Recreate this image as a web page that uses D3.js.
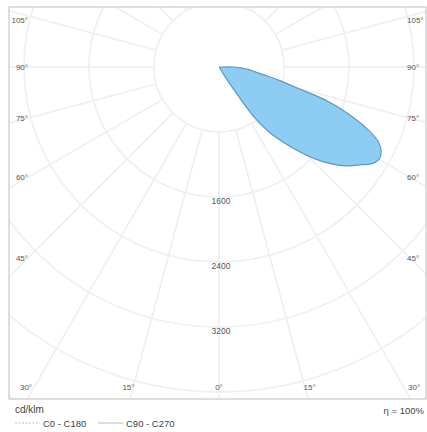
<!DOCTYPE html>
<html>
<head>
<meta charset="utf-8">
<script src="https://cdn.jsdelivr.net/npm/d3@7"></script>
<style>
  html, body { margin: 0; padding: 0; background: #fff; }
  svg { display: block; }
  text { font-family: "Liberation Sans", Arial, sans-serif; }
</style>
</head>
<body>
<script>
// ---- data ----
const gammaAngles = [0, 5, 10, 15, 20, 25, 30, 32.5, 35, 37.5, 40, 42.5, 45, 47.5, 50, 52.5, 55, 57.5, 60, 62.5, 65, 67.5, 70, 72.5, 75, 77.5, 80, 82.5, 85, 87.5, 90, 95];
const c0Values    = [0, 0, 0, 0, 0, 0, 0, 200, 750, 1000, 1180, 1360, 1545, 1720, 1870, 2000, 2100, 2220, 2275, 2250, 2160, 1960, 1700, 1410, 990, 760, 560, 440, 370, 270, 180, 0];
const circleValues = [800, 1600, 2400, 3200, 4000, 4800, 5600];
const circleLabels = [1600, 2400, 3200];
const sideAngles = [105, 90, 75, 60, 45];
const bottomAngles = [30, 15, 0, 15, 30];
const bottomSigns = [-1, -1, 0, 1, 1];
const legendItems = ["C0 - C180", "C90 - C270"];
const unitLabel = "cd/klm";
const efficiencyLabel = "\u03B7 = 100%";

// ---- layout ----
const W = 427, H = 432;
const frame = {x0: 9, y0: 7, x1: 426, y1: 399};
const cx = 219, cy = 67;
const r = d3.scaleLinear().domain([0, 800]).range([0, 65]);

const svg = d3.select("body").append("svg").attr("width", W).attr("height", H);

svg.append("clipPath").attr("id", "clip")
  .append("rect").attr("x", frame.x0).attr("y", frame.y0)
  .attr("width", frame.x1 - frame.x0).attr("height", frame.y1 - frame.y0);

const grid = svg.append("g").attr("clip-path", "url(#clip)");
const gridColor = "#f0f0f0";

// circles
grid.selectAll("circle.grid").data(circleValues).enter().append("circle")
  .attr("cx", cx).attr("cy", cy).attr("r", d => r(d))
  .attr("fill", "none").attr("stroke", gridColor).attr("stroke-width", 1.8);

// radial lines every 15 degrees
const radAngles = d3.range(0, 360, 15);
grid.selectAll("line.rad").data(radAngles).enter().append("line")
  .attr("x1", d => cx + Math.sin(d * Math.PI / 180) * r(800))
  .attr("y1", d => cy + Math.cos(d * Math.PI / 180) * r(800))
  .attr("x2", d => cx + Math.sin(d * Math.PI / 180) * 600)
  .attr("y2", d => cy + Math.cos(d * Math.PI / 180) * 600)
  .attr("stroke", gridColor).attr("stroke-width", 1.8);

// lobe (C0 side)
const lobePts = gammaAngles.map((g, i) => [Math.PI - g * Math.PI / 180, r(c0Values[i])]);
const lineR = d3.lineRadial().curve(d3.curveCatmullRomClosed.alpha(0.5));
svg.append("path")
  .attr("transform", `translate(${cx},${cy})`)
  .attr("d", lineR(lobePts))
  .attr("fill", "#8ecdf3").attr("stroke", "#5f97ba").attr("stroke-width", 1.2);

// frame
svg.append("rect").attr("x", frame.x0).attr("y", frame.y0)
  .attr("width", frame.x1 - frame.x0).attr("height", frame.y1 - frame.y0)
  .attr("fill", "none").attr("stroke", "#c8c8c8").attr("stroke-width", 1.2);

const labColor = "#555";

// circle value labels
svg.selectAll("text.cl").data(circleLabels).enter().append("text")
  .attr("x", cx + 2).attr("y", d => cy + r(d) + 7)
  .attr("text-anchor", "middle").attr("font-size", 8.5).attr("fill", labColor)
  .text(d => d);

// side angle labels
const sideDist = 191;
sideAngles.forEach(a => {
  const t = Math.tan((90 - a) * Math.PI / 180);
  const y = cy + sideDist * t;
  const yy = Math.max(20, y);
  svg.append("text").attr("x", cx - sideDist).attr("y", yy + 3)
    .attr("text-anchor", "end").attr("font-size", 8).attr("fill", labColor).text(a + "\u00B0");
  svg.append("text").attr("x", cx + sideDist - 3).attr("y", yy + 3)
    .attr("text-anchor", "start").attr("font-size", 8).attr("fill", labColor).text(a + "\u00B0");
});

// bottom angle labels
const bottomDy = 338;
bottomAngles.forEach((a, i) => {
  let x = cx + bottomSigns[i] * bottomDy * Math.tan(a * Math.PI / 180);
  x = Math.max(26, Math.min(418, x));
  svg.append("text").attr("x", x).attr("y", 390)
    .attr("text-anchor", "middle").attr("font-size", 8).attr("fill", labColor).text(a + "\u00B0");
});

// unit + legend
svg.append("text").attr("x", 15).attr("y", 413).attr("font-size", 10).attr("fill", "#444").text(unitLabel);
const legX = [15, 98];
legendItems.forEach((t, i) => {
  svg.append("line").attr("x1", legX[i]).attr("x2", legX[i] + 25).attr("y1", 423).attr("y2", 423)
    .attr("stroke", "#bbb").attr("stroke-width", 1)
    .attr("stroke-dasharray", i === 0 ? "2,1.5" : null);
  svg.append("text").attr("x", legX[i] + 28).attr("y", 426.5).attr("font-size", 9.5).attr("fill", "#444").text(t);
});
svg.append("text").attr("x", 424).attr("y", 414).attr("text-anchor", "end")
  .attr("font-size", 9.5).attr("fill", "#444").text(efficiencyLabel);
</script>
</body>
</html>
